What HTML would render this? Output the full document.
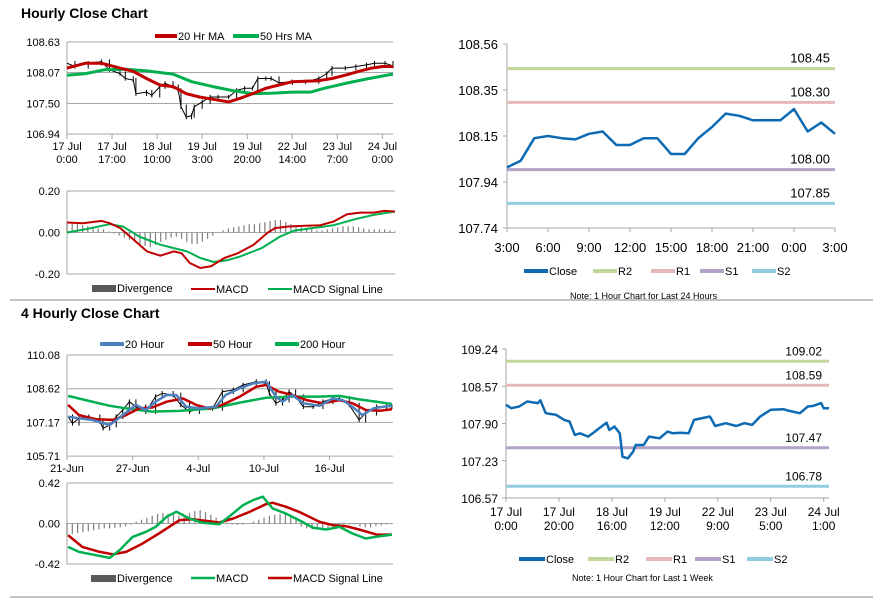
<!DOCTYPE html>
<html><head><meta charset="utf-8"><style>
body{margin:0;background:#fff}
svg{display:block;font-family:"Liberation Sans",Arial,sans-serif}
</style></head><body>
<svg id="c" width="873" height="601" viewBox="0 0 873 601" xmlns="http://www.w3.org/2000/svg">
<text x="21" y="18" font-size="14" font-weight="bold">Hourly Close Chart</text>
<text x="21" y="318" font-size="14" font-weight="bold">4 Hourly Close Chart</text>
<line x1="10" y1="300" x2="873" y2="300" stroke="#888" stroke-width="1"/>
<line x1="10" y1="597" x2="873" y2="597" stroke="#888" stroke-width="1"/>
<g id="g"></g>
</svg>
<script>
// ---------- Panel 1: Hourly close ----------
const p1CloseT=[0,3,8,13,16,20,22,25,26,30,32,35,37,40,42,43,45,47,48,51,54,57,61,64,67,70,72,75,77,80,85,90,95,98,100,105,109,113,116,120,123];
const p1Close=[108.24,108.18,108.24,108.27,108.12,108.05,107.96,107.93,107.68,107.71,107.65,107.81,107.87,107.81,107.74,107.44,107.25,107.28,107.44,107.53,107.62,107.62,107.62,107.74,107.78,107.78,107.96,107.96,107.96,107.88,107.90,107.90,107.96,108.05,108.15,108.15,108.18,108.21,108.24,108.24,108.19];
const p1Ma20T=[0,7,13,20,25,30,35,40,45,50,56,61,65,70,75,80,85,90,95,100,105,110,115,119,123];
const p1Ma20=[108.15,108.24,108.24,108.15,108.09,107.96,107.84,107.81,107.68,107.62,107.57,107.53,107.59,107.68,107.78,107.84,107.90,107.91,107.92,107.96,108.02,108.09,108.15,108.18,108.18];
const p1Ma50T=[0,7,14,22,30,40,47,55,62,70,77,85,92,97,105,113,123];
const p1Ma50=[108.02,108.05,108.12,108.13,108.10,108.04,107.90,107.81,107.74,107.68,107.69,107.71,107.71,107.78,107.87,107.95,108.04];
const p1Ticks=["17 Jul|0:00","17 Jul|17:00","18 Jul|10:00","19 Jul|3:00","19 Jul|20:00","22 Jul|14:00","23 Jul|7:00","24 Jul|0:00"];
const p1YTicks=[108.63,108.07,107.50,106.94];
const m1MacdT=[0,6,13,16,20,25,30,35,40,43,46,50,54,59,64,70,75,78,83,88,95,100,105,110,115,119,123];
const m1Macd=[0.048,0.045,0.056,0.045,0.021,-0.035,-0.091,-0.112,-0.091,-0.10,-0.147,-0.171,-0.163,-0.123,-0.10,-0.059,-0.003,0.021,0.029,0.032,0.035,0.053,0.088,0.096,0.096,0.104,0.101];
const m1SigT=[0,7,16,21,27,35,40,45,50,55,60,65,73,80,85,92,100,108,115,123];
const m1Sig=[0,0.016,0.04,0.029,-0.019,-0.059,-0.075,-0.091,-0.123,-0.142,-0.134,-0.115,-0.075,-0.019,0.008,0.021,0.035,0.064,0.085,0.101];
const m1Div=[0.045,0.045,0.04,0.035,0.03,0.025,0.02,0.015,0.005,-0.005,-0.015,-0.025,-0.035,-0.045,-0.055,-0.065,-0.07,-0.06,-0.045,-0.035,-0.025,-0.02,-0.03,-0.045,-0.055,-0.055,-0.045,-0.03,-0.015,0,0.01,0.02,0.025,0.03,0.035,0.04,0.04,0.045,0.05,0.055,0.06,0.06,0.05,0.04,0.03,0.025,0.02,0.015,0.01,0.01,0.015,0.02,0.025,0.03,0.03,0.03,0.025,0.02,0.015,0.015,0.015,0.015,0.01,0.005];
const m1YTicks=["0.20","0.00","-0.20"];
// ---------- Panel 2: last 24 hours ----------
const p2Close=[108.01,108.04,108.14,108.15,108.14,108.135,108.16,108.17,108.11,108.11,108.14,108.14,108.07,108.07,108.14,108.19,108.25,108.24,108.22,108.22,108.22,108.27,108.17,108.21,108.16];
const p2Levels=[108.45,108.30,108.00,107.85];
const p2XTicks=["3:00","6:00","9:00","12:00","15:00","18:00","21:00","0:00","3:00"];
const p2YTicks=["108.56","108.35","108.15","107.94","107.74"];
// ---------- Panel 3: 4 hourly ----------
const p3CloseT=[0.1,0.5,1.1,2,3,3.3,3.9,4.5,5.1,5.7,6.3,7.2,8.1,8.7,9.7,10.4,11.2,12.1,13.3,14.2,15.2,16.1,17.3,18.2,18.5,19.1,19.7,20.3,20.9,21.6,22.5,23.4,24.3,24.9,25.8,26.7,27.3,28.3,29.2,29.7];
const p3Close=[107.41,107.12,107.34,107.41,107.20,106.91,107.05,107.41,107.70,108.06,107.84,107.63,108.28,108.42,108.35,107.92,107.63,107.77,107.77,108.49,108.57,108.78,108.93,108.85,108.42,107.99,108.13,108.49,108.28,107.84,107.84,108.06,108.20,108.20,107.92,107.27,107.56,107.84,107.84,107.84];
const p3H20T=[0.1,1.1,2.3,3.9,5.1,6.3,7.2,8.1,9.1,10,10.9,12.1,13.6,14.5,15.8,17,18.2,19.1,19.7,20.6,21.6,23.1,24.3,25.2,26.1,27,28,28.9,29.7];
const p3H20=[107.41,107.34,107.27,107.05,107.48,107.92,107.70,108.06,108.35,108.35,107.84,107.77,107.84,108.35,108.64,108.85,108.93,108.28,108.06,108.35,107.99,107.88,108.20,108.13,107.84,107.48,107.77,107.84,107.88];
const p3H50T=[0.1,1.1,2.7,4.2,5.4,6.6,7.8,9.1,10.6,11.8,13,14.2,15.8,17.3,18.2,19.4,20.6,21.9,23.4,24.9,26.1,27.3,28.6,29.7];
const p3H50=[107.92,107.48,107.30,107.27,107.48,107.77,107.81,108.06,108.20,107.92,107.77,107.92,108.28,108.71,108.78,108.49,108.35,108.13,107.99,108.13,107.99,107.70,107.67,107.73];
const p3H200T=[0.1,1.7,3.9,6,7.8,10.3,13.3,15.8,18.2,20.6,23.1,24.9,26.7,28.3,29.7];
const p3H200=[108.31,108.13,107.88,107.73,107.63,107.66,107.77,108.02,108.23,108.28,108.28,108.31,108.16,108.06,107.96];
const p3XTicks=["21-Jun","27-Jun","4-Jul","10-Jul","16-Jul"];
const p3YTicks=["110.08","108.62","107.17","105.71"];
const m2MacdT=[0.1,1.1,2.7,3.9,4.8,6,7.2,8.1,9.1,10,11.2,12.4,13.9,14.8,16.1,17,17.9,18.8,20,21.2,22.5,23.7,24.9,26.1,27.3,28.6,29.7];
const m2Macd=[-0.243,-0.295,-0.33,-0.357,-0.278,-0.139,-0.087,-0.035,0.069,0.121,0.052,0.007,-0.007,0.069,0.191,0.243,0.278,0.156,0.104,0.035,-0.045,-0.062,-0.035,-0.104,-0.156,-0.132,-0.115];
const m2SigT=[0.1,1.4,3,4.2,5.4,6.9,8.4,10.3,11.5,13,13.9,15.2,16.7,18.2,18.8,20,21.2,23.1,24.3,25.5,26.7,28.3,29.7];
const m2Sig=[-0.121,-0.243,-0.295,-0.319,-0.295,-0.208,-0.104,0.035,0.045,0.024,0.01,0.052,0.121,0.201,0.215,0.174,0.121,0.017,-0.017,-0.028,-0.062,-0.115,-0.115];
const m2Div=[-0.12,-0.11,-0.1,-0.09,-0.08,-0.07,-0.06,-0.05,-0.05,-0.045,-0.04,-0.03,-0.01,0.02,0.04,0.06,0.08,0.1,0.11,0.1,0.09,0.08,0.09,0.11,0.13,0.14,0.12,0.09,0.06,0.03,0.01,-0.01,-0.015,-0.01,0,0.02,0.04,0.06,0.08,0.09,0.1,0.1,0.08,0.04,-0.03,-0.05,-0.06,-0.06,-0.07,-0.07,-0.06,-0.04,-0.02,-0.01,-0.01,-0.03,-0.04,-0.04,-0.03,-0.02,-0.01,0.005];
const m2YTicks=["0.42","0.00","-0.42"];
// ---------- Panel 4: last 1 week ----------
const p4CloseT=[0,2,5,8,12,13,15,19,22,24,26,28,31,33,36,38,39,41,43,44,46,48,49,52,54,58,61,63,66,69,71,77,79,83,87,90,93,96,100,105,107,111,114,116,119,120,122];
const p4Close=[108.24,108.18,108.21,108.30,108.27,108.32,108.09,108.06,107.97,107.94,107.70,107.73,107.67,107.74,107.85,107.92,107.79,107.85,107.73,107.31,107.28,107.40,107.52,107.52,107.67,107.64,107.76,107.73,107.74,107.73,107.97,108.03,107.86,107.91,107.86,107.91,107.88,108.03,108.15,108.16,108.13,108.09,108.21,108.22,108.27,108.18,108.18];
const p4Levels=[109.02,108.59,107.47,106.78];
const p4XTicks=["17 Jul|0:00","17 Jul|20:00","18 Jul|16:00","19 Jul|12:00","22 Jul|9:00","23 Jul|5:00","24 Jul|1:00"];
const p4YTicks=["109.24","108.57","107.90","107.23","106.57"];

const levelNames=["r2","r1","s1","s2"];
const levelColors=["#c3d69b","#e6b9b8","#b3a2c7","#93cddd"];
const NS="http://www.w3.org/2000/svg";
const G=document.getElementById('g');
function el(tag,attrs,parent){const e=document.createElementNS(NS,tag);for(const k in attrs)e.setAttribute(k,attrs[k]);(parent||G).appendChild(e);return e;}
function sc(d0,d1,r0,r1){return v=>r0+(v-d0)/(d1-d0)*(r1-r0);}
function txt(x,y,s,anchor,size,name,fill){const t=el('text',{x:x,y:y,'font-size':size||11,'text-anchor':anchor||'middle',fill:fill||'#000'});t.textContent=s;return t;}
function line(ts,vs,xs,ys,color,w,name){const pts=vs.map((v,i)=>xs(ts?ts[i]:i).toFixed(1)+','+ys(v).toFixed(1)).join(' ');const p=el('polyline',{points:pts,fill:'none',stroke:color,'stroke-width':w,'stroke-linejoin':'round'});return p;}
function hl(x1,x2,y,c,w,name){const l=el('line',{x1:x1,x2:x2,y1:y,y2:y,stroke:c,'stroke-width':w});return l;}
function vl(x,y1,y2,c,w,name){const l=el('line',{x1:x,x2:x,y1:y1,y2:y2,stroke:c,'stroke-width':w});return l;}
function legend(items,y){items.forEach(it=>{hl(it[0],it[0]+it[1],y,it[2],it[3],'legend-swatch-'+it[5]);txt(it[0]+it[1]+1,y+4,it[4],'start',11,'legend-entry-'+it[5]);});}

// Panel 1
(function(){const X=sc(0,123,67,393),Y=sc(106.94,108.63,134,42);
p1YTicks.forEach((v,i)=>{hl(67,393,Y(v),'#a6a6a6',1,'p1-gridline');txt(60,Y(v)+4,v.toFixed(2),'end',11,'p1-y-tick');});
vl(67,42,134,'#a6a6a6',1,'p1-y-axis');
p1Ticks.forEach((s,i)=>{const x=X(i*17);vl(x,134,139,'#a6a6a6',1,'p1-x-tick');const a=s.split('|');txt(x,150,a[0],'middle',11,'p1-x-label');txt(x,163,a[1],'middle',11,'p1-x-label');});
line(p1CloseT,p1Close,X,Y,'#000',1,'p1-close-line');
for(let i=1;i<p1Close.length;i++){vl(X(p1CloseT[i]),Y(Math.max(p1Close[i],p1Close[i-1])+0.04),Y(Math.min(p1Close[i],p1Close[i-1])-0.04),'#000',1,'p1-price-bar');}
line(p1Ma50T,p1Ma50,X,Y,'#00b050',3,'p1-ma50-line');
line(p1Ma20T,p1Ma20,X,Y,'#c00000',3,'p1-ma20-line');
legend([[155,22,'#c00000',4,'20 Hr MA','ma20'],[233,26,'#00b050',4,'50 Hrs MA','ma50']],36);
const MY=sc(-0.2,0.2,274,191),MX=sc(0,123,67,395);
[0.2,0,-0.2].forEach((v,i)=>{hl(67,395,MY(v),'#a6a6a6',1,'m1-gridline');txt(60,MY(v)+4,m1YTicks[i],'end',11,'m1-y-tick');});
vl(67,191,274,'#a6a6a6',1,'m1-y-axis');
m1Div.forEach((v,i)=>{const x=MX(i*123/(m1Div.length-1));const r=el('rect',{x:x-0.6,y:Math.min(MY(0),MY(v)),width:1.2,height:Math.abs(MY(v)-MY(0)),fill:'#808080'});});
line(m1SigT,m1Sig,MX,MY,'#00b050',2,'m1-signal-line');
line(m1MacdT,m1Macd,MX,MY,'#c00000',2,'m1-macd-line');
const dr=el('rect',{x:92,y:285,width:24,height:7,fill:'#595959'});
txt(117,292,'Divergence','start',11,'legend-entry-divergence');
legend([[191,24,'#c00000',2,'MACD','macd'],[268,24,'#00b050',2,'MACD Signal Line','signal']],289);
})();

// Panel 2
(function(){const X=sc(0,24,507,835),Y=sc(107.74,108.56,228,44);
vl(507,44,228,'#a6a6a6',1,'p2-y-axis');hl(507,835,228,'#a6a6a6',1,'p2-x-axis');
p2YTicks.forEach((s,i)=>{const y=44+i*46;hl(503,507,y,'#a6a6a6',1,'p2-y-tickmark');txt(498,y+5,s,'end',13,'p2-y-tick');});
p2XTicks.forEach((s,i)=>{const x=X(i*3);vl(x,228,232,'#a6a6a6',1,'p2-x-tick');txt(x,252,s,'middle',13,'p2-x-label');});
p2Levels.forEach((v,i)=>{hl(507,835,Y(v),levelColors[i],3,'p2-level-'+levelNames[i]);txt(830,Y(v)-6,v.toFixed(2),'end',13,'p2-level-label-'+levelNames[i]);});
line(null,p2Close,X,Y,'#0e6bb3',2.5,'p2-close-line');
legend([[524,24,'#0e6bb3',4,'Close','close'],[593,24,'#c3d69b',4,'R2','r2'],[651,24,'#e6b9b8',4,'R1','r1'],[700,24,'#b3a2c7',4,'S1','s1'],[752,24,'#93cddd',4,'S2','s2']],271);
txt(570,299,'Note: 1 Hour Chart for Last 24 Hours','start',9,'p2-note');
})();

// Panel 3
(function(){const X=sc(0,29.8,67,393),Y=sc(105.71,110.08,456,355);
p3YTicks.forEach((s,i)=>{const y=355+i*33.7;hl(67,393,y,'#a6a6a6',1,'p3-gridline');txt(60,y+4,s,'end',11,'p3-y-tick');});
vl(67,355,456,'#a6a6a6',1,'p3-y-axis');
p3XTicks.forEach((s,i)=>{const x=X(i*6);vl(x,456,460,'#a6a6a6',1,'p3-x-tick');txt(x,472,s,'middle',11,'p3-x-label');});
line(p3CloseT,p3Close,X,Y,'#000',1,'p3-close-line');
for(let i=1;i<p3Close.length;i++){vl(X(p3CloseT[i]),Y(Math.max(p3Close[i],p3Close[i-1])+0.1),Y(Math.min(p3Close[i],p3Close[i-1])-0.1),'#000',1,'p3-price-bar');}
line(p3H200T,p3H200,X,Y,'#00b050',2.5,'p3-h200-line');
line(p3H50T,p3H50,X,Y,'#c00000',2.5,'p3-h50-line');
line(p3H20T,p3H20,X,Y,'#4f81bd',2.5,'p3-h20-line');
legend([[100,24,'#4f81bd',4,'20 Hour','h20'],[188,24,'#c00000',4,'50 Hour','h50'],[275,24,'#00b050',4,'200 Hour','h200']],344);
const MY=sc(-0.42,0.42,564,483);
[0.42,0,-0.42].forEach((v,i)=>{hl(67,393,MY(v),'#a6a6a6',1,'m2-gridline');txt(60,MY(v)+4,m2YTicks[i],'end',11,'m2-y-tick');});
vl(67,483,564,'#a6a6a6',1,'m2-y-axis');
m2Div.forEach((v,i)=>{const x=X(i*29.7/(m2Div.length-1));const r=el('rect',{x:x-0.6,y:Math.min(MY(0),MY(v)),width:1.2,height:Math.abs(MY(v)-MY(0)),fill:'#808080'});});
line(m2SigT,m2Sig,X,MY,'#c00000',2.5,'m2-signal-line');
line(m2MacdT,m2Macd,X,MY,'#00b050',2.5,'m2-macd-line');
const dr=el('rect',{x:91,y:575,width:25,height:7,fill:'#595959'});
txt(117,582,'Divergence','start',11,'legend-entry-divergence-2');
legend([[191,24,'#00b050',2.5,'MACD','macd-2'],[268,24,'#c00000',2.5,'MACD Signal Line','signal-2']],578);
})();

// Panel 4
(function(){const X=sc(0,122,506,829),Y=sc(106.57,109.24,498,349);
vl(506,349,498,'#a6a6a6',1,'p4-y-axis');hl(506,829,498,'#a6a6a6',1,'p4-x-axis');
p4YTicks.forEach((s,i)=>{const y=349+i*37.25;hl(502,506,y,'#a6a6a6',1,'p4-y-tickmark');txt(498,y+5,s,'end',12,'p4-y-tick');});
p4XTicks.forEach((s,i)=>{const x=X(i*20);vl(x,498,502,'#a6a6a6',1,'p4-x-tick');const a=s.split('|');txt(x,516,a[0],'middle',12,'p4-x-label');txt(x,530,a[1],'middle',12,'p4-x-label');});
p4Levels.forEach((v,i)=>{hl(506,829,Y(v),levelColors[i],3,'p4-level-'+levelNames[i]);txt(822,Y(v)-6,v.toFixed(2),'end',12,'p4-level-label-'+levelNames[i]);});
line(p4CloseT,p4Close,X,Y,'#0e6bb3',2.5,'p4-close-line');
legend([[519,26,'#0e6bb3',4,'Close','close-2'],[588,26,'#c3d69b',4,'R2','r2-2'],[646,26,'#e6b9b8',4,'R1','r1-2'],[695,26,'#b3a2c7',4,'S1','s1-2'],[747,26,'#93cddd',4,'S2','s2-2']],559);
txt(572,581,'Note: 1 Hour Chart for Last 1 Week','start',9,'p4-note');
})();
</script>
</body></html>
